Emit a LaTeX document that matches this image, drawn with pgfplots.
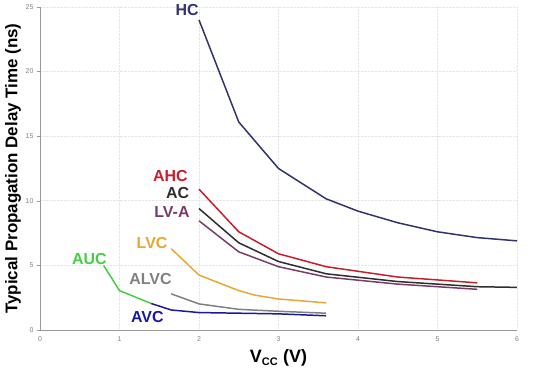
\documentclass[border=0pt]{standalone}
\usepackage{fontspec}
\setmainfont{Liberation Sans}
\usepackage{pgfplots}
\pgfplotsset{compat=1.18}
\definecolor{hc}{RGB}{50,50,110}
\definecolor{ahc}{RGB}{200,30,40}
\definecolor{ac}{RGB}{45,45,45}
\definecolor{lva}{RGB}{120,60,105}
\definecolor{lvc}{RGB}{230,168,50}
\definecolor{alvc}{RGB}{128,128,128}
\definecolor{auc}{RGB}{70,205,70}
\definecolor{avc}{RGB}{25,25,160}
\definecolor{gridc}{RGB}{230,230,230}
\begin{document}
\begin{tikzpicture}
\begin{axis}[
  name=ax,
  scale only axis,
  width=477bp, height=323bp,
  xmin=0, xmax=6, ymin=0, ymax=25,
  xtick={0,1,...,6}, ytick={0,5,...,25},
  axis x line=bottom, axis y line=left,
  axis line style={draw=gray!80, -},
  grid=major,
  major grid style={gridc, densely dotted, line width=0.7pt},
  tick style={gray!80},
  tick align=outside,
  major tick length=3bp,
  xtick style={draw=none},
  tick label style={font=\fontsize{7}{8}\selectfont, text=gray},
  /pgf/number format/assume math mode=true,
  every axis x label/.style={at={(rel axis cs:0.5,0)}, anchor=center, yshift=-28bp},
  every axis y label/.style={at={([xshift=-27bp]rel axis cs:0,0.5)}, anchor=center, rotate=90},
  xlabel={\fontsize{18}{20}\selectfont\bfseries V\textsubscript{\fontsize{11}{12}\selectfont CC} (V)},
  ylabel={\fontsize{17}{19}\selectfont\bfseries Typical Propagation Delay Time (ns)},
  every axis plot/.append style={line width=1.5pt, line join=round},
  clip=false,
]
\addplot[hc] coordinates {(2,24) (2.5,16.1) (3,12.5) (3.6,10.15) (4,9.2) (4.5,8.3) (5,7.6) (5.5,7.15) (6,6.9)};
\addplot[ahc] coordinates {(2,10.9) (2.5,7.6) (3,5.9) (3.6,4.9) (4.5,4.1) (5.5,3.65)};
\addplot[ac] coordinates {(2,9.4) (2.5,6.75) (3,5.3) (3.6,4.35) (4.5,3.75) (5.5,3.35) (6,3.3)};
\addplot[lva] coordinates {(2,8.45) (2.5,6.05) (3,4.9) (3.6,4.1) (4.5,3.55) (5.5,3.15)};
\addplot[lvc] coordinates {(1.65,6.3) (2,4.25) (2.5,3.05) (2.7,2.7) (3,2.4) (3.6,2.1)};
\addplot[alvc] coordinates {(1.65,2.8) (2,2.02) (2.5,1.6) (3,1.45) (3.6,1.3)};
\addplot[auc] coordinates {(0.8,5.0) (1.0,3.05) (1.4,2.05)};
\addplot[avc] coordinates {(1.4,2.05) (1.65,1.55) (2,1.35) (3,1.25) (3.6,1.1)};
\node[font=\fontsize{16}{18}\selectfont\bfseries, text=hc] at (axis cs:1.85,24.8) {HC};
\node[font=\fontsize{16}{18}\selectfont\bfseries, text=ahc] at (axis cs:1.64,11.94) {AHC};
\node[font=\fontsize{16}{18}\selectfont\bfseries, text=ac] at (axis cs:1.73,10.64) {AC};
\node[font=\fontsize{16}{18}\selectfont\bfseries, text=lva] at (axis cs:1.66,9.15) {LV-A};
\node[font=\fontsize{16}{18}\selectfont\bfseries, text=lvc] at (axis cs:1.41,6.72) {LVC};
\node[font=\fontsize{16}{18}\selectfont\bfseries, text=auc] at (axis cs:0.62,5.48) {AUC};
\node[font=\fontsize{16}{18}\selectfont\bfseries, text=alvc] at (axis cs:1.39,3.93) {ALVC};
\node[font=\fontsize{16}{18}\selectfont\bfseries, text=avc] at (axis cs:1.35,1.03) {AVC};
\end{axis}
\pgfresetboundingbox
\path (ax.south west) ++(-40bp,-44bp) rectangle ++(549bp,374bp);
\end{tikzpicture}
\end{document}
